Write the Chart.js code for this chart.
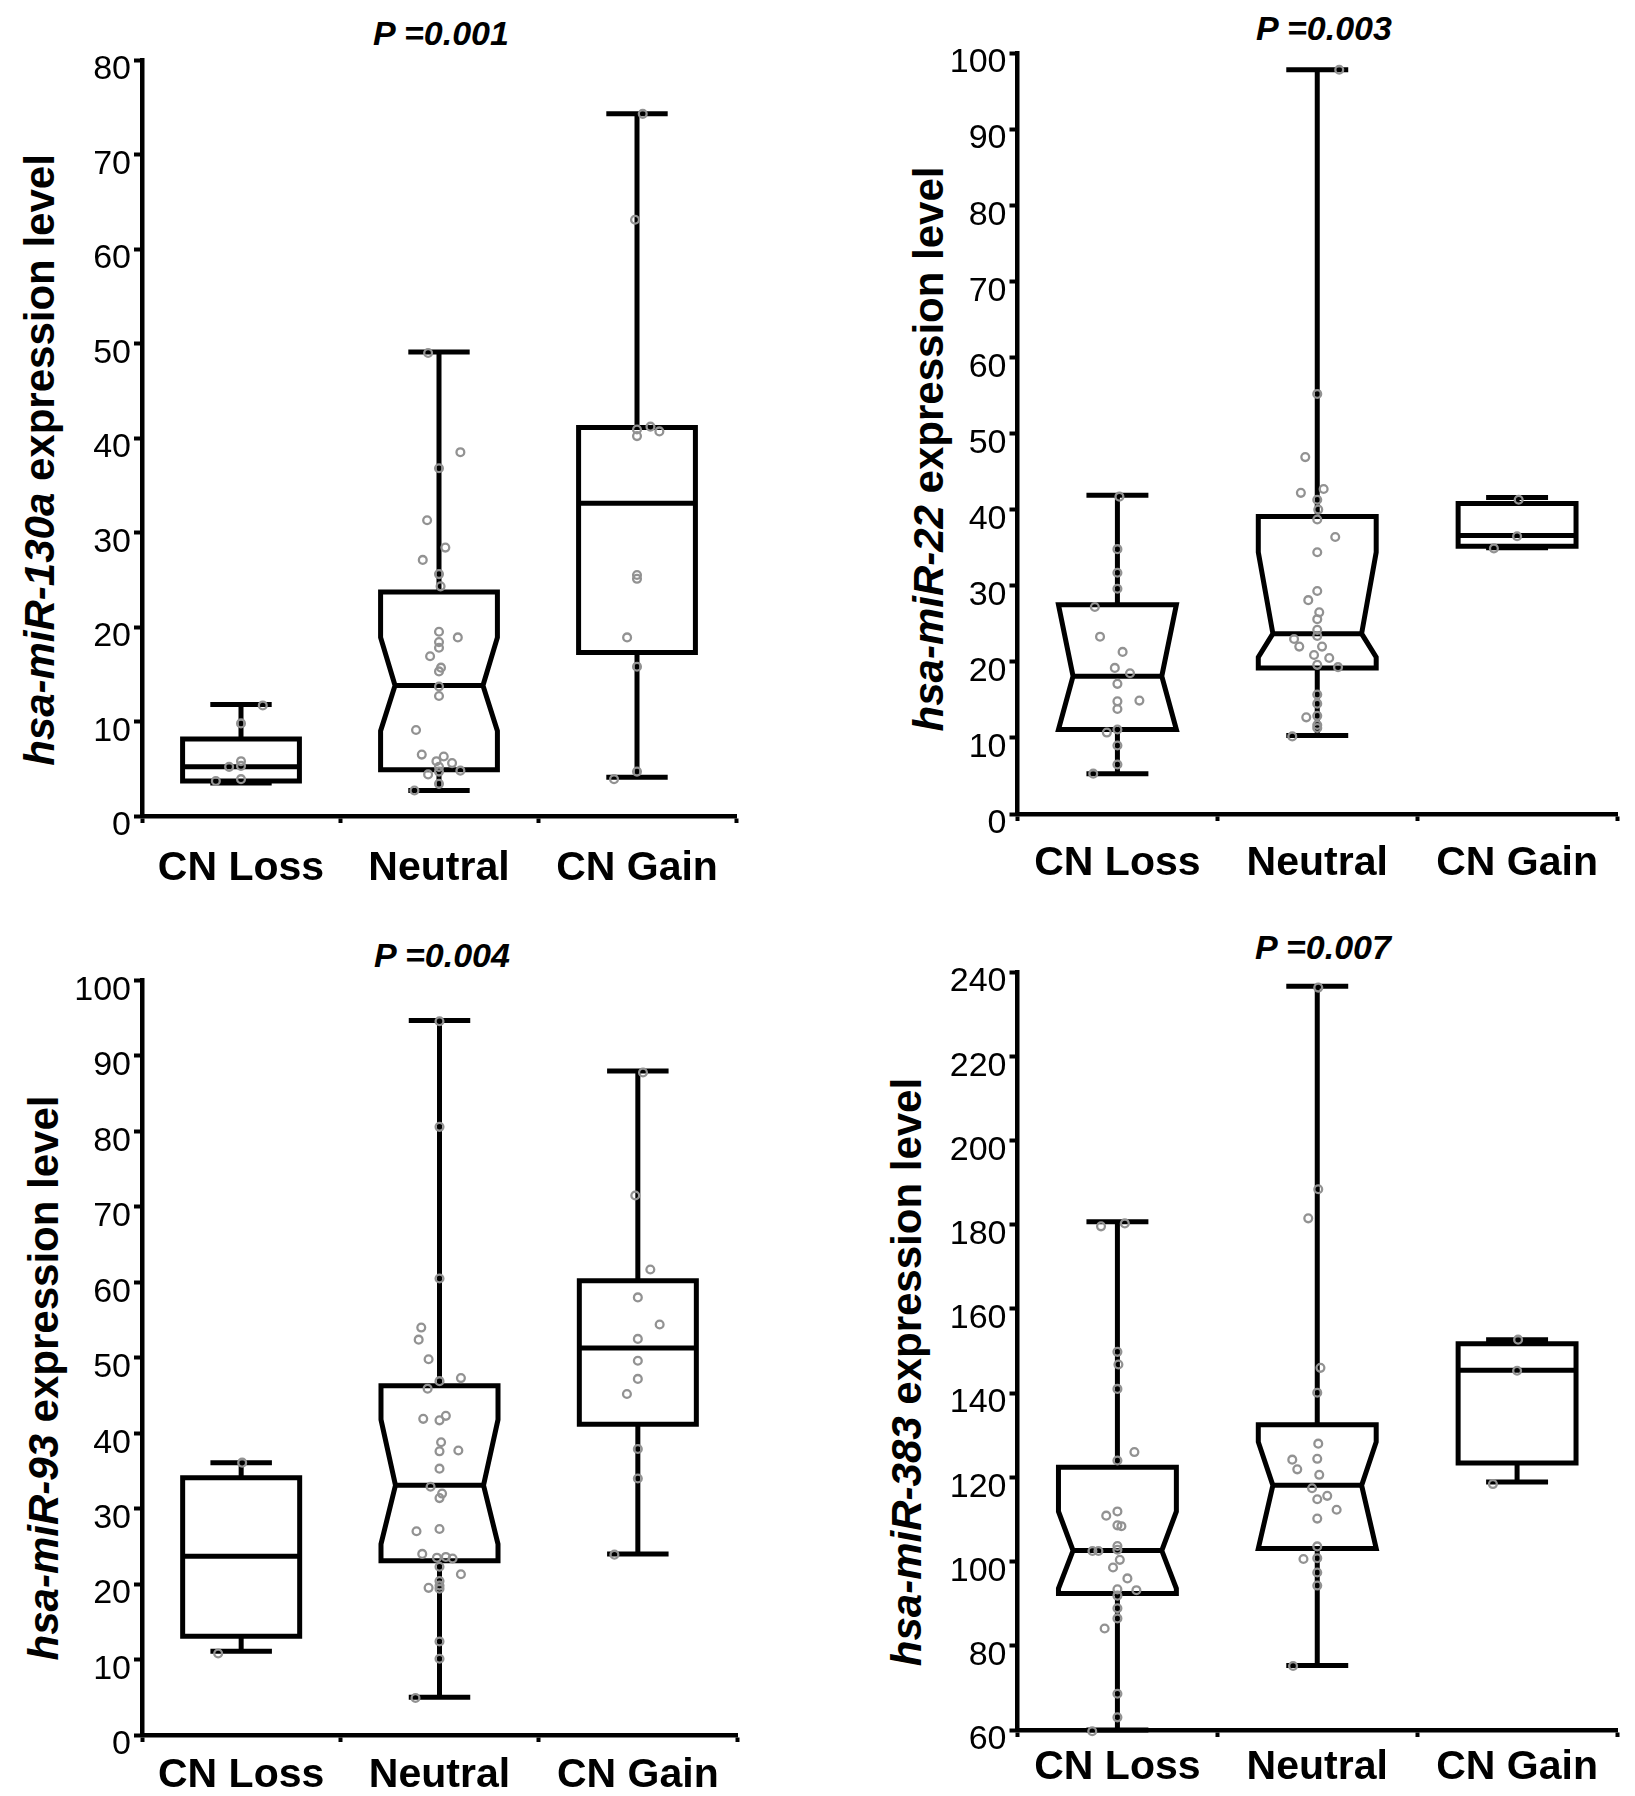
<!DOCTYPE html>
<html>
<head>
<meta charset="utf-8">
<script src="https://cdn.jsdelivr.net/npm/chart.js@4.4.1/dist/chart.umd.min.js"></script>
<style>
html,body{margin:0;padding:0;background:#fff;}
body{width:1635px;height:1796px;position:relative;overflow:hidden;font-family:"Liberation Sans",Arial,sans-serif;}
.panel{position:absolute;display:block;}
.ptitle{position:absolute;font:italic bold 34px "Liberation Sans",Arial,sans-serif;line-height:34px;white-space:nowrap;transform:translate(-50%,-50%);color:#000;}
.ytitle{position:absolute;font:bold 42px "Liberation Sans",Arial,sans-serif;line-height:42px;white-space:nowrap;transform:translate(-50%,-50%) rotate(-90deg);color:#000;}
.ytitle i{font-style:italic;}
</style>
</head>
<body>
<div class="ptitle" style="left:441px;top:33px;">P =0.001</div>
<div class="ptitle" style="left:1324px;top:28px;">P =0.003</div>
<div class="ptitle" style="left:442px;top:955px;">P =0.004</div>
<div class="ptitle" style="left:1323px;top:947px;">P =0.007</div>
<div class="ytitle" style="left:40px;top:460px;"><i>hsa-miR-130a</i> expression level</div>
<div class="ytitle" style="left:929px;top:449px;"><i>hsa-miR-22</i> expression level</div>
<div class="ytitle" style="left:44px;top:1378px;"><i>hsa-miR-93</i> expression level</div>
<div class="ytitle" style="left:907px;top:1372px;"><i>hsa-miR-383</i> expression level</div>
<script>
// ---------------- DATA ----------------
const categories = ['CN Loss', 'Neutral', 'CN Gain'];

// box stats: [whiskerLow, q1, notchLow, median, notchHigh, q3, whiskerHigh]
// ---- hsa-miR-130a ----
const ticks130a = [0, 80, 10];
const stats130aLoss    = [3.5, 3.7, 3.7, 5.2, 8.15, 8.15, 11.8];
const stats130aNeutral = [2.7, 4.9, 9.0, 13.8, 18.9, 23.7, 49.1];
const stats130aGain    = [4.1, 17.3, 17.3, 33.1, 41.1, 41.1, 74.3];
const notched130a = [false, true, false];
const pts130aLossY    = [11.7, 9.8, 5.8, 5.3, 5.2, 3.9, 3.7];
const pts130aLossDx   = [0.11, 0, 0, 0, -0.06, 0, -0.127];
const pts130aNeutralY = [49.0, 38.5, 36.8, 31.3, 28.4, 27.1, 25.6, 24.3, 19.5, 18.9, 18.4, 17.8, 16.9, 15.7, 15.3, 13.7, 12.7, 9.1, 6.5, 6.3, 5.8, 5.6, 5.2, 4.7, 4.4, 4.8, 3.4, 2.7];
const pts130aNeutralDx= [-0.055, 0.108, 0, -0.06, 0.032, -0.082, 0, 0.008, 0, 0.095, 0, 0, -0.045, 0.01, 0, 0, 0, -0.116, -0.087, 0.024, -0.013, 0.066, 0, 0, -0.055, 0.108, 0, -0.124];
const pts130aGainY    = [74.3, 63.1, 40.9, 41.2, 40.7, 40.2, 25.5, 25.1, 18.9, 15.8, 4.7, 3.9];
const pts130aGainDx   = [0.029, -0.01, 0, 0.068, 0.113, 0, 0, 0, -0.05, 0, 0, -0.116];

// ---- hsa-miR-22 ----
const ticks22 = [0, 100, 10];
const stats22Loss    = [5.3, 11.1, 11.1, 18.1, 27.5, 27.5, 41.9];
const stats22Neutral = [10.3, 19.2, 20.6, 23.7, 34.4, 39.1, 97.8];
const stats22Gain    = [35.0, 35.2, 35.2, 36.6, 40.8, 40.8, 41.6];
const notched22 = [true, true, false];
const pts22LossY    = [41.7, 34.8, 31.7, 29.6, 27.2, 23.3, 21.3, 19.2, 18.5, 17.1, 14.8, 14.9, 13.8, 10.7, 11.1, 9.0, 6.5, 5.3];
const pts22LossDx   = [0.01, 0, 0, 0, -0.113, -0.087, 0.026, -0.013, 0.063, 0, 0, 0.11, 0, -0.053, 0, 0, 0, -0.121];
const pts22NeutralY = [97.8, 55.2, 46.9, 42.7, 42.2, 41.3, 40.0, 38.7, 36.4, 34.4, 29.3, 28.1, 26.5, 25.6, 24.2, 23.4, 23.0, 22.0, 22.0, 20.9, 20.5, 19.6, 19.3, 15.7, 14.5, 12.9, 12.7, 11.7, 11.3, 10.2];
const pts22NeutralDx= [0.11, 0, -0.06, 0.032, -0.082, 0, 0.005, 0, 0.09, 0, 0, -0.045, 0.01, 0, 0, 0, -0.116, -0.09, 0.024, -0.016, 0.06, 0, 0.104, 0, 0, 0, -0.055, 0, 0, -0.125];
const pts22GainY    = [41.3, 36.5, 34.9];
const pts22GainDx   = [0.008, 0, -0.116];

// ---- hsa-miR-93 ----
const ticks93 = [0, 100, 10];
const stats93Loss    = [11.1, 13.1, 13.1, 23.7, 34.1, 34.1, 36.1];
const stats93Neutral = [5.0, 23.1, 25.3, 33.1, 41.8, 46.3, 94.7];
const stats93Gain    = [24.0, 41.2, 41.2, 51.3, 60.2, 60.2, 88.0];
const notched93 = [false, true, false];
const pts93LossY    = [36.1, 10.8];
const pts93LossDx   = [0.005, -0.116];
const pts93NeutralY = [94.6, 80.6, 60.5, 54.0, 52.4, 49.8, 47.3, 46.9, 45.9, 42.3, 41.9, 41.7, 38.8, 37.6, 37.7, 35.3, 32.9, 32.0, 31.4, 27.3, 27.0, 24.0, 23.5, 23.6, 23.4, 22.3, 21.3, 20.4, 19.8, 19.5, 19.4, 12.4, 10.1, 4.9];
const pts93NeutralDx= [0, 0, 0, -0.092, -0.105, -0.055, 0.108, 0, -0.06, 0.032, -0.082, 0, 0.008, 0, 0.095, 0, -0.045, 0.013, 0, 0, -0.116, -0.087, -0.013, 0.032, 0.066, 0, 0.108, 0, 0, -0.055, 0, 0, 0, -0.121];
const pts93GainY    = [87.8, 71.5, 61.7, 58.0, 54.4, 52.5, 49.6, 47.2, 45.2, 37.9, 34.0, 23.9];
const pts93GainDx   = [0.026, -0.013, 0.063, 0, 0.11, 0, 0, 0, -0.055, 0, 0, -0.118];

// ---- hsa-miR-383 ----
const ticks383 = [60, 240, 20];
const stats383Loss    = [60, 92.4, 93.6, 102.6, 111.9, 122.4, 180.7];
const stats383Neutral = [75.3, 103.1, 103.1, 118.1, 128.4, 132.5, 236.6];
const stats383Gain    = [118.9, 123.4, 123.4, 145.4, 151.7, 151.7, 152.7];
const notched383 = [true, true, false];
const pts383LossY    = [180.3, 179.6, 149.8, 146.8, 141.0, 126.0, 124.0, 111.9, 110.9, 108.6, 108.4, 103.7, 102.8, 102.5, 102.5, 100.4, 98.6, 96.0, 93.4, 93.2, 91.9, 88.9, 86.5, 84.1, 68.6, 63.0, 59.7];
const pts383LossDx   = [0.037, -0.082, 0, 0.005, 0, 0.085, 0, 0, -0.056, 0, 0.02, 0, 0, -0.125, -0.095, 0.012, -0.022, 0.05, 0, 0.095, 0, 0, 0, -0.064, 0, 0, -0.126];
const pts383NeutralY = [236.3, 188.4, 181.5, 146.0, 140.1, 128.0, 124.4, 124.2, 121.9, 120.6, 117.4, 115.6, 114.8, 112.3, 110.2, 103.6, 100.8, 100.6, 97.4, 94.3, 75.2];
const pts383NeutralDx= [0.005, 0.005, -0.045, 0.016, 0, 0.005, 0, -0.125, -0.1, 0.01, -0.026, 0.05, 0, 0.097, 0, 0, 0, -0.069, 0, 0, -0.121];
const pts383GainY    = [152.7, 145.3, 118.4];
const pts383GainDx   = [0.005, 0, -0.121];

// ---------------- DRAWING ----------------
const FONT = '"Liberation Sans", Arial, Helvetica, sans-serif';
const HW = 0.295, IW = 0.222, CW = 0.155;

function toPoints(ys, dxs, idx) {
  return ys.map((v, k) => ({ x: idx + dxs[k], y: v }));
}

function boxPlugin(stats, notched) {
  return {
    id: 'boxes',
    beforeDatasetsDraw(chart) {
      const { ctx } = chart;
      const xs = chart.scales.x, ys = chart.scales.y;
      const X = v => xs.getPixelForValue(v), Y = v => ys.getPixelForValue(v);
      ctx.save();
      ctx.lineWidth = 5;
      ctx.strokeStyle = '#000';
      ctx.lineJoin = 'miter';
      ctx.lineCap = 'butt';
      stats.forEach((s, i) => {
        const [wl, q1, nl, md, nh, q3, wh] = s;
        const xl = X(i - HW), xr = X(i + HW), xc = X(i);
        const iw = notched[i] ? IW : HW;
        const il = X(i - iw), ir = X(i + iw);
        const cl = X(i - CW), cr = X(i + CW);
        // whiskers
        ctx.beginPath();
        ctx.moveTo(xc, Y(q3)); ctx.lineTo(xc, Y(wh));
        ctx.moveTo(cl, Y(wh)); ctx.lineTo(cr, Y(wh));
        ctx.moveTo(xc, Y(q1)); ctx.lineTo(xc, Y(wl));
        ctx.moveTo(cl, Y(wl)); ctx.lineTo(cr, Y(wl));
        ctx.stroke();
        // box
        ctx.beginPath();
        ctx.moveTo(xl, Y(q3)); ctx.lineTo(xr, Y(q3));
        if (notched[i]) {
          ctx.lineTo(xr, Y(nh)); ctx.lineTo(ir, Y(md)); ctx.lineTo(xr, Y(nl));
        }
        ctx.lineTo(xr, Y(q1)); ctx.lineTo(xl, Y(q1));
        if (notched[i]) {
          ctx.lineTo(xl, Y(nl)); ctx.lineTo(il, Y(md)); ctx.lineTo(xl, Y(nh));
        }
        ctx.closePath();
        ctx.fillStyle = '#fff';
        ctx.fill();
        ctx.stroke();
        // median
        ctx.beginPath();
        ctx.moveTo(il, Y(md)); ctx.lineTo(ir, Y(md));
        ctx.stroke();
      });
      ctx.restore();
    }
  };
}

function makePanel(p) {
  const c = document.createElement('canvas');
  c.className = 'panel';
  c.width = p.W; c.height = p.H;
  c.style.left = p.L + 'px'; c.style.top = p.T + 'px';
  c.style.width = p.W + 'px'; c.style.height = p.H + 'px';
  document.body.appendChild(c);
  const data = [].concat(
    toPoints(p.pts[0][0], p.pts[0][1], 0),
    toPoints(p.pts[1][0], p.pts[1][1], 1),
    toPoints(p.pts[2][0], p.pts[2][1], 2)
  );
  new Chart(c, {
    type: 'scatter',
    data: {
      datasets: [{
        data: data,
        pointRadius: 3.9,
        pointHoverRadius: 3.9,
        pointBorderWidth: 2.3,
        borderColor: '#929292',
        backgroundColor: 'rgba(0,0,0,0)',
        clip: false
      }]
    },
    options: {
      responsive: false,
      animation: false,
      events: [],
      layout: { padding: { top: p.padTop, right: p.padRight, left: 0, bottom: 0 } },
      plugins: { legend: { display: false }, tooltip: { enabled: false }, title: { display: false } },
      scales: {
        x: {
          type: 'linear', min: -0.5, max: 2.5,
          afterBuildTicks: s => { s.ticks = [-0.5, 0, 0.5, 1, 1.5, 2, 2.5].map(v => ({ value: v })); },
          afterFit: s => { s.height = p.xH; },
          border: { display: true, color: '#000', width: 4.5 },
          grid: {
            drawOnChartArea: false, drawTicks: true, tickLength: 7, tickWidth: 4,
            tickColor: ctx => (ctx.tick && Number.isInteger(ctx.tick.value)) ? 'rgba(0,0,0,0)' : '#000'
          },
          ticks: {
            autoSkip: false, maxRotation: 0, minRotation: 0, padding: p.xPad, color: '#000',
            font: { family: FONT, size: 41, weight: 'bold' },
            callback: v => Number.isInteger(v) ? categories[v] : ''
          }
        },
        y: {
          type: 'linear', min: p.ticks[0], max: p.ticks[1],
          afterFit: s => { s.width = p.yW; },
          border: { display: true, color: '#000', width: 4.5 },
          grid: { drawOnChartArea: false, drawTicks: true, tickLength: 8, tickWidth: 4, tickColor: '#000' },
          ticks: {
            stepSize: p.ticks[2], autoSkip: false, color: '#000', padding: 3, labelOffset: 10,
            font: { family: FONT, size: 34 }
          }
        }
      }
    },
    plugins: [boxPlugin(p.stats, p.notched)]
  });
}

makePanel({
  L: 0, T: 0, W: 800, H: 898, yW: 142, padTop: 60, padRight: 64, xH: 82, xPad: 21,
  ticks: ticks130a, stats: [stats130aLoss, stats130aNeutral, stats130aGain], notched: notched130a,
  pts: [[pts130aLossY, pts130aLossDx], [pts130aNeutralY, pts130aNeutralDx], [pts130aGainY, pts130aGainDx]]
});
makePanel({
  L: 815, T: 0, W: 820, H: 898, yW: 202.5, padTop: 53, padRight: 18, xH: 84, xPad: 18,
  ticks: ticks22, stats: [stats22Loss, stats22Neutral, stats22Gain], notched: notched22,
  pts: [[pts22LossY, pts22LossDx], [pts22NeutralY, pts22NeutralDx], [pts22GainY, pts22GainDx]]
});
makePanel({
  L: 0, T: 900, W: 800, H: 896, yW: 142, padTop: 80.5, padRight: 63, xH: 61, xPad: 9,
  ticks: ticks93, stats: [stats93Loss, stats93Neutral, stats93Gain], notched: notched93,
  pts: [[pts93LossY, pts93LossDx], [pts93NeutralY, pts93NeutralDx], [pts93GainY, pts93GainDx]]
});
makePanel({
  L: 815, T: 900, W: 820, H: 896, yW: 202.5, padTop: 72, padRight: 18, xH: 66, xPad: 6,
  ticks: ticks383, stats: [stats383Loss, stats383Neutral, stats383Gain], notched: notched383,
  pts: [[pts383LossY, pts383LossDx], [pts383NeutralY, pts383NeutralDx], [pts383GainY, pts383GainDx]]
});
</script>
</body>
</html>
